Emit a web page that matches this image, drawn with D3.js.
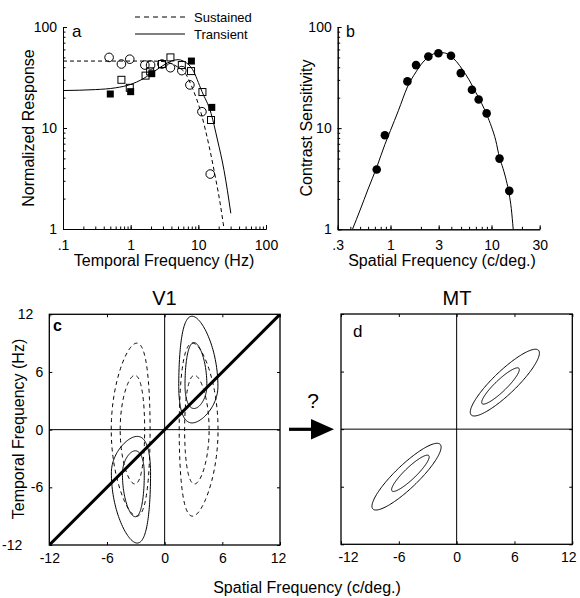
<!DOCTYPE html>
<html>
<head>
<meta charset="utf-8">
<script src="https://cdn.jsdelivr.net/npm/d3@7"></script>
<style>
  html, body { margin: 0; padding: 0; background: #fff; }
  svg { display: block; font-family: "Liberation Sans", Arial, Helvetica, sans-serif; }
</style>
</head>
<body>
<svg id="fig" width="580" height="598"></svg>
<script>
// ---------- Panel a: temporal frequency tuning ----------
const circleTF   = [0.48, 0.73, 0.97, 1.62, 1.97, 2.9, 3.87, 5.7, 7.5, 11.3, 15];
const circleResp = [50, 43, 48, 42, 42, 43, 39.5, 37, 26.7, 14.5, 3.5];
const openSqTF   = [0.73, 0.97, 1.66, 1.94, 2.9, 3.87, 5.7, 7.8, 11.5, 15.4];
const openSqResp = [30, 25, 33, 36.4, 43, 50, 42, 36.6, 22.7, 12];
const fillSqTF   = [0.5, 1.0, 2.05, 7.9, 15.8];
const fillSqResp = [21.7, 22.9, 34.5, 46, 16];

const sustainedTF   = [0.1, 1, 2, 3, 4, 5, 6.2, 8.2, 11, 14.5, 18.2, 21, 23.3, 24];
const sustainedResp = [46, 46, 46, 45.5, 43.5, 40, 36, 24.7, 14, 6.5, 3.05, 1.8, 1.14, 1];
const transientTF   = [0.1, 0.3, 0.6, 1, 1.5, 2, 3, 4, 5, 6, 8.2, 11.3, 15.4, 19.2, 24, 30.2];
const transientResp = [23.5, 24, 25, 27, 30.5, 34.5, 41.5, 46, 47.5, 46, 38, 23, 14, 7.6, 3.8, 1.43];

const aXTicks = [0.1, 1, 10, 100];
const aXLabels = [".1", "1", "10", "100"];
const aYTicks = [1, 10, 100];
const aYLabels = ["1", "10", "100"];
const legendNames = ["Sustained", "Transient"];

// ---------- Panel b: contrast sensitivity ----------
const csfSF = [0.73, 0.88, 1.47, 1.79, 2.37, 2.98, 3.97, 4.96, 6.4, 7.46, 8.95, 12, 15];
const csfCS = [3.9, 8.5, 29, 42, 51, 55, 52, 35, 24, 19.2, 14, 5.0, 2.4];
const csfFitSF = [0.42, 0.5, 0.6, 0.73, 0.88, 1.0, 1.2, 1.47, 1.79, 2.1, 2.4, 2.7, 3.0, 3.4, 3.9, 4.5, 5.2, 6.0, 7.0, 8.0, 9.0, 10, 11, 12, 13, 14, 15, 15.7, 16.4];
const csfFitCS = [1, 1.55, 2.5, 4.1, 6.9, 9.5, 15, 25.5, 36, 45, 51, 54.5, 56, 55.5, 52, 45.5, 37.5, 30, 22.5, 17.5, 13.5, 10.3, 7.6, 5.1, 4.0, 3.05, 2.2, 1.6, 1];
const bXTicks = [0.3, 1, 3, 10, 30];
const bXLabels = [".3", "1", "3", "10", "30"];
const bYTicks = [1, 10, 100];
const bYLabels = ["1", "10", "100"];

// ---------- Panel c: V1 spectral receptive fields ----------
// sustained (dashed) contours: centre SF, log half-width, TF half-height
const susSf       = [-2.9, -3.1, 2.9, 3.1];
const susLogWidth = [0.65, 0.40, 0.65, 0.40];
const susTfHalf   = [9.0, 5.65, 9.0, 5.65];
// transient (solid) contours: centre SF, log half-width, TF centre, extent above / below
const traSf       = [2.85, 3.05, -2.85, -3.05];
const traLogWidth = [0.665, 0.365, 0.665, 0.365];
const traTf       = [4.5, 4.6, -4.5, -4.6];
const traTfUp     = [7.3, 4.46, 3.8, 2.4];
const traTfDown   = [3.8, 2.4, 7.3, 4.46];

// ---------- Panel d: MT spectral receptive field ----------
const mtCx    = [5.0, 4.55, -5.2, -4.8];
const mtCy    = [4.85, 4.5, -4.95, -4.6];
const mtMajor = [4.85, 2.65, 4.85, 2.65];
const mtMinor = [1.2, 0.6, 1.2, 0.6];
const mtAngle = [44, 44, 44, 44];

const linTicks = [-12, -6, 0, 6, 12];
const linLabels = ["-12", "-6", "0", "6", "12"];

// ------------------------------------------------------------
const svg = d3.select("#fig");
const FONT = '"Liberation Sans", Arial, Helvetica, sans-serif';

function minorLogTicks(lo, hi) {
  const out = [];
  for (let e = Math.floor(Math.log10(lo)); e <= Math.ceil(Math.log10(hi)); e++) {
    for (let k = 1; k <= 9; k++) {
      const v = k * Math.pow(10, e);
      if (v >= lo * 0.999 && v <= hi * 1.001) out.push(v);
    }
  }
  return out;
}

function styleAxis(g, size) {
  g.selectAll("text").attr("font-family", FONT).attr("font-size", size).attr("fill", "#000");
  g.selectAll("line,path").attr("stroke", "#000").attr("stroke-width", 1);
}

function logPanel(xs, ys, xT, xL, yT, yL) {
  const yb = ys.range()[0], xl = xs.range()[0];
  const gx = svg.append("g").attr("transform", `translate(0,${yb})`);
  gx.call(d3.axisBottom(xs).tickValues(minorLogTicks(...xs.domain())).tickSize(-2.5).tickSizeOuter(0).tickFormat(""));
  gx.append("g").call(d3.axisBottom(xs).tickValues(xT).tickSize(-4).tickSizeOuter(0)
    .tickPadding(11).tickFormat((d, i) => xL[i]));
  styleAxis(gx, 14);
  const gy = svg.append("g").attr("transform", `translate(${xl},0)`);
  gy.call(d3.axisLeft(ys).tickValues(minorLogTicks(...ys.domain())).tickSize(-2.5).tickSizeOuter(0).tickFormat(""));
  gy.append("g").call(d3.axisLeft(ys).tickValues(yT).tickSize(-4).tickSizeOuter(0)
    .tickPadding(6).tickFormat((d, i) => yL[i]));
  styleAxis(gy, 14);
}

function text(x, y, str, size, opts = {}) {
  const t = svg.append("text").attr("x", x).attr("y", y).text(str)
    .attr("font-family", FONT).attr("font-size", size).attr("fill", "#000")
    .attr("text-anchor", opts.anchor || "start");
  if (opts.rotate) t.attr("transform", `rotate(-90,${x},${y})`);
  if (opts.weight) t.attr("font-weight", opts.weight);
  return t;
}

// ================= Panel a =================
const ax = d3.scaleLog().domain([0.1, 100]).range([63, 266]);
const ay = d3.scaleLog().domain([1, 100]).range([229, 27]);
logPanel(ax, ay, aXTicks, aXLabels, aYTicks, aYLabels);

const lineA = d3.line().curve(d3.curveMonotoneX);
svg.append("path")
  .attr("d", lineA(sustainedTF.map((f, i) => [ax(f), ay(sustainedResp[i])])))
  .attr("fill", "none").attr("stroke", "#000").attr("stroke-width", 1).attr("stroke-dasharray", "4,3");
svg.append("path")
  .attr("d", lineA(transientTF.map((f, i) => [ax(f), ay(transientResp[i])])))
  .attr("fill", "none").attr("stroke", "#000").attr("stroke-width", 1);

svg.append("g").selectAll("circle").data(circleTF).join("circle")
  .attr("cx", d => ax(d)).attr("cy", (d, i) => ay(circleResp[i])).attr("r", 4.3)
  .attr("fill", "none").attr("stroke", "#000").attr("stroke-width", 1);
const sq = 7;
svg.append("g").selectAll("rect").data(openSqTF).join("rect")
  .attr("x", d => ax(d) - sq / 2).attr("y", (d, i) => ay(openSqResp[i]) - sq / 2)
  .attr("width", sq).attr("height", sq)
  .attr("fill", "none").attr("stroke", "#000").attr("stroke-width", 1);
svg.append("g").selectAll("rect").data(fillSqTF).join("rect")
  .attr("x", d => ax(d) - sq / 2).attr("y", (d, i) => ay(fillSqResp[i]) - sq / 2)
  .attr("width", sq).attr("height", sq).attr("fill", "#000");

// legend
svg.append("line").attr("x1", 135).attr("x2", 185).attr("y1", 17).attr("y2", 17)
  .attr("stroke", "#000").attr("stroke-dasharray", "5,4");
svg.append("line").attr("x1", 135).attr("x2", 185).attr("y1", 34).attr("y2", 34)
  .attr("stroke", "#000");
text(194, 21.5, legendNames[0], 13);
text(194, 38.5, legendNames[1], 13);

text(72, 37, "a", 17);
text(34, 128, "Normalized Response", 16, { anchor: "middle", rotate: true });
text(164, 266, "Temporal Frequency (Hz)", 16, { anchor: "middle" });

// ================= Panel b =================
const bx = d3.scaleLog().domain([0.3, 30]).range([337.7, 539.7]);
const by = d3.scaleLog().domain([1, 100]).range([229.3, 27]);
logPanel(bx, by, bXTicks, bXLabels, bYTicks, bYLabels);

svg.append("path")
  .attr("d", d3.line().curve(d3.curveMonotoneX)(csfFitSF.map((f, i) => [bx(f), by(csfFitCS[i])])))
  .attr("fill", "none").attr("stroke", "#000").attr("stroke-width", 1);
svg.append("g").selectAll("circle").data(csfSF).join("circle")
  .attr("cx", d => bx(d)).attr("cy", (d, i) => by(csfCS[i])).attr("r", 4.3).attr("fill", "#000");

text(346, 36.5, "b", 16);
text(312, 128, "Contrast Sensitivity", 16, { anchor: "middle", rotate: true });
text(442, 266, "Spatial Frequency (c/deg.)", 16, { anchor: "middle" });

// ================= Panels c & d: boxes =================
function linPanel(xs, ys, yLabels, xShift) {
  const [l, r] = xs.range(), [b, t] = ys.range();
  const g = svg.append("g");
  g.append("g").attr("transform", `translate(0,${b})`)
    .call(d3.axisBottom(xs).tickValues(linTicks).tickSize(-3).tickSizeOuter(0).tickPadding(8)
      .tickFormat((d, i) => linLabels[i]))
    .call(s => s.selectAll("text").attr("dx", d => xShift(d)));
  g.append("g").attr("transform", `translate(0,${t})`)
    .call(d3.axisTop(xs).tickValues(linTicks).tickSize(-3).tickSizeOuter(0).tickFormat(""));
  g.append("g").attr("transform", `translate(${r},0)`)
    .call(d3.axisRight(ys).tickValues(linTicks).tickSize(-3).tickSizeOuter(0).tickFormat(""));
  const gl = g.append("g").attr("transform", `translate(${l},0)`)
    .call(d3.axisLeft(ys).tickValues(linTicks).tickSize(-3).tickSizeOuter(0).tickPadding(6)
      .tickFormat(yLabels ? (d, i) => linLabels[i] : ""));
  // end labels are pulled left, clear of the frame corner and the x labels
  if (yLabels) gl.selectAll("text").attr("dx", d => d === 12 ? -10 : d === -12 ? -21 : 0);
  styleAxis(g, 14);
  g.selectAll(".domain").remove();
  // frame and zero lines
  svg.append("rect").attr("x", l).attr("y", t).attr("width", r - l).attr("height", b - t)
    .attr("fill", "none").attr("stroke", "#000").attr("stroke-width", 1.3);
  svg.append("line").attr("x1", xs(0)).attr("x2", xs(0)).attr("y1", t).attr("y2", b)
    .attr("stroke", "#000").attr("stroke-width", 1);
  svg.append("line").attr("x1", l).attr("x2", r).attr("y1", ys(0)).attr("y2", ys(0))
    .attr("stroke", "#000").attr("stroke-width", 1);
}

// ================= Panel c =================
const cx = d3.scaleLinear().domain([-12, 12]).range([49.3, 280]);
const cy = d3.scaleLinear().domain([-12, 12]).range([545, 314.3]);
linPanel(cx, cy, true, d => d === 12 ? -2 : 0);

function logEllipse(xs, ys, sf, a, tf, up, down) {
  const n = 160;
  const pts = d3.range(n).map(i => {
    const t = 2 * Math.PI * i / n, s = Math.sin(t);
    const x = sf * Math.exp(a * Math.cos(t));
    const y = tf + (s >= 0 ? up : down) * s;
    return [xs(x), ys(y)];
  });
  return d3.line().curve(d3.curveLinearClosed)(pts);
}

svg.append("clipPath").attr("id", "clipC").append("rect")
  .attr("x", 49.3).attr("y", 314.3).attr("width", 280 - 49.3).attr("height", 545 - 314.3);
const gc = svg.append("g").attr("clip-path", "url(#clipC)");
susSf.forEach((sf, i) => {
  gc.append("path").attr("d", logEllipse(cx, cy, sf, susLogWidth[i], 0, susTfHalf[i], susTfHalf[i]))
    .attr("fill", "none").attr("stroke", "#000").attr("stroke-width", 1).attr("stroke-dasharray", "4,3.5");
});
traSf.forEach((sf, i) => {
  gc.append("path").attr("d", logEllipse(cx, cy, sf, traLogWidth[i], traTf[i], traTfUp[i], traTfDown[i]))
    .attr("fill", "none").attr("stroke", "#000").attr("stroke-width", 1);
});
gc.append("line").attr("x1", cx(-12)).attr("y1", cy(-12)).attr("x2", cx(12)).attr("y2", cy(12))
  .attr("stroke", "#000").attr("stroke-width", 3);

text(53, 331, "c", 16, { weight: "bold" });
text(164.5, 305, "V1", 20, { anchor: "middle" });
text(24, 429, "Temporal Frequency (Hz)", 16, { anchor: "middle", rotate: true });

// ================= Panel d =================
const dx = d3.scaleLinear().domain([-12, 12]).range([341, 572.3]);
const dy = d3.scaleLinear().domain([-12, 12]).range([544.3, 314]);
linPanel(dx, dy, false, d => d === -12 ? 7 : d === 12 ? -4 : 0);

mtCx.forEach((c0, i) => {
  const th = mtAngle[i] * Math.PI / 180;
  const pts = d3.range(160).map(k => {
    const t = 2 * Math.PI * k / 160;
    const u = mtMajor[i] * Math.cos(t), v = mtMinor[i] * Math.sin(t);
    return [dx(c0 + u * Math.cos(th) - v * Math.sin(th)), dy(mtCy[i] + u * Math.sin(th) + v * Math.cos(th))];
  });
  svg.append("path").attr("d", d3.line().curve(d3.curveLinearClosed)(pts))
    .attr("fill", "none").attr("stroke", "#000").attr("stroke-width", 1);
});

text(353, 337, "d", 17);
text(457, 305, "MT", 20, { anchor: "middle" });

// arrow between panels
svg.append("line").attr("x1", 289).attr("x2", 314).attr("y1", 429.3).attr("y2", 429.3)
  .attr("stroke", "#000").attr("stroke-width", 3.2);
svg.append("path").attr("d", "M311,419 L334,429.3 L311,439.6 Z").attr("fill", "#000");
text(313, 408, "?", 21, { anchor: "middle" });

text(307, 593, "Spatial Frequency (c/deg.)", 16, { anchor: "middle" });
</script>
</body>
</html>
